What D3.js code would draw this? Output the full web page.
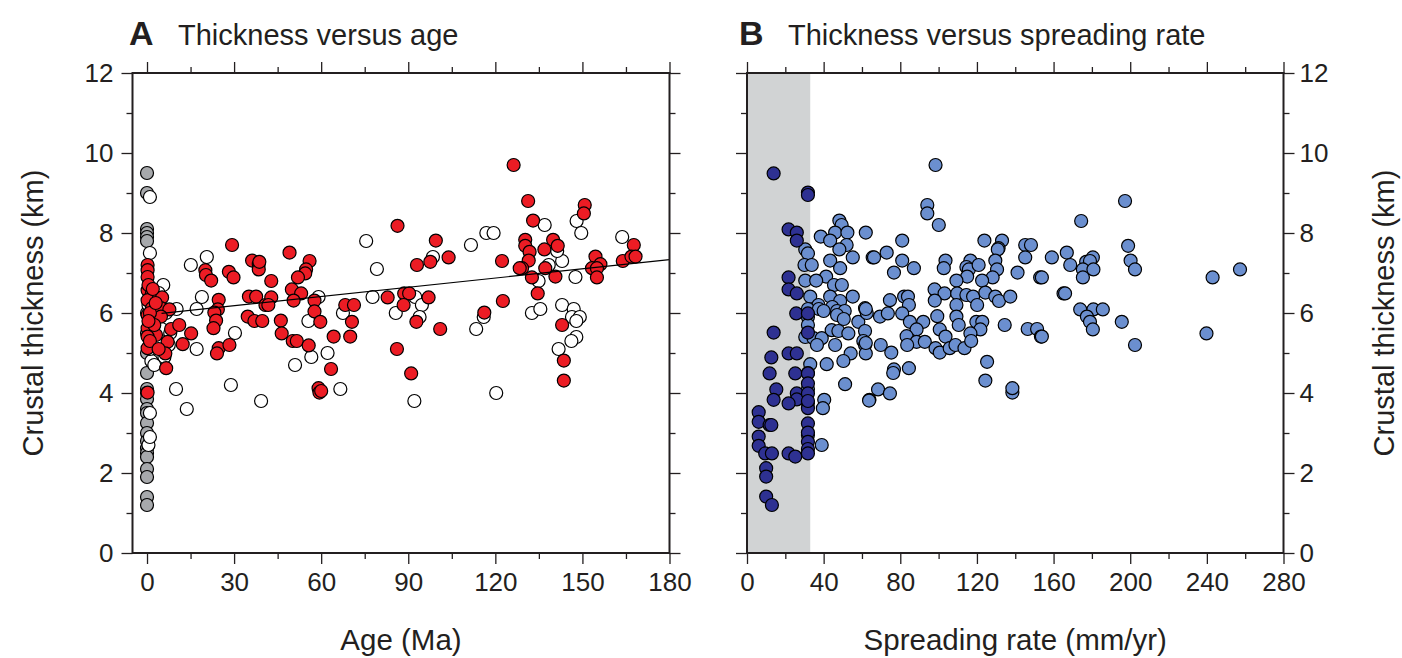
<!DOCTYPE html>
<html>
<head>
<meta charset="utf-8">
<script src="https://cdn.jsdelivr.net/npm/d3@7"></script>
<style>
body{margin:0;background:#fff}
text{font-family:"Liberation Sans",Arial,Helvetica,sans-serif;fill:#231f20}
</style>
</head>
<body>
<svg id="fig" width="1402" height="658"></svg>
<script>
// ---- data: [age (Ma), thickness (km)] ----
const ageGray = [[0,9.5],[0,9.0],[0,8.1],[0,8.0],[0,7.9],[0,7.8],[0,6.0],[0,5.5],[0,5.0],[0,4.5],[0,4.1],[0,4.0],[0,3.85],[0,3.6],[0,3.5],[0,3.25],[0,3.0],[0,2.8],[0,2.62],[0,2.5],[0,2.4],[0,2.1],[0,1.9],[0,1.4],[0,1.2]];

const ageWhite = [[1.0,8.9],[1.0,7.5],[20.6,7.4],[15.1,7.2],[5.6,6.7],[18.9,6.4],[17.1,6.1],[10.2,6.1],[30.3,5.5],[17.1,5.1],[10,4.1],[13.7,3.6],[28.9,4.2],[39.3,3.8],[51,4.7],[56.6,4.9],[62.2,5.0],[66.6,4.1],[59.1,6.4],[55.6,5.8],[67.5,6.0],[1.0,3.5],[0.5,2.7],[1.0,2.9],
  [2,5.5],[3,5.3],[4.5,5.0],[1.5,4.8],[6,4.9],[7.5,5.2],[3.5,5.7],[5,5.6],[1,5.1],[8,5.5],[2.5,4.7],[0.5,6.2],[6.5,6.0],[4,6.5],
  [75.5,7.8],[79.2,7.1],[98.5,7.4],[111.6,7.7],[77.7,6.4],[92.4,6.4],[94.7,6.2],[85.7,6.0],[93.9,5.9],[92.1,3.8],[113.4,5.6],
  [116.9,8.0],[119.4,8.0],[137,8.2],[148,8.3],[149.6,8.0],[163.7,7.9],[138.4,7.2],[143,7.3],[141.3,7.55],[147.6,6.9],[134.9,6.8],[132.6,6.0],[135.5,6.1],[143,6.2],[147,6.1],[146.4,5.9],[149.1,5.9],[147.9,5.8],[147.9,5.4],[146.2,5.3],[141.8,5.1],[116,5.9],[120.3,4.0]];

const ageRed = [[0.2,7.2],[0.2,7.07],[0.2,6.9],[0.2,6.57],[1.7,6.49],[5.2,6.39],[0.2,6.32],[1.7,6.12],[4.8,6.12],[7.7,6.09],[0.2,5.95],[2,5.9],[4.8,5.91],[0.2,5.62],[3.1,5.45],[8.3,5.6],[11.1,5.7],[0.2,5.41],[7.1,5.28],[12.3,5.22],[15.2,5.49],[0.2,5.12],[6.3,4.99],[6.6,4.62],[0.2,4.01],[0.5,6.7],[1,6.0],[2.5,5.7],[0.5,5.8],[3,6.25],[1,5.3],[4,5.1],[2,6.6],
  [29.3,7.7],[20.1,7.07],[20.3,6.95],[22.1,6.81],[28.2,7.03],[29.8,6.89],[24.7,6.33],[24.4,6.09],[23.2,6.01],[23.8,5.81],[22.9,5.62],[24.7,5.12],[24.1,4.99],[28.4,5.2],[36.2,7.31],[38.5,7.22],[38.5,7.09],[35.1,6.41],[37.6,6.41],[40.8,6.2],[34.7,5.91],[37.0,5.8],[39.7,5.8],
  [38.7,7.28],[49.1,7.51],[56,7.3],[54.8,7.09],[54.5,6.99],[52,6.89],[42.8,6.8],[49.9,6.59],[53.1,6.49],[50.5,6.31],[42.8,6.39],[41.8,6.2],[57.7,6.31],[57.7,6.04],[59.7,5.78],[46.1,5.81],[46.4,5.49],[50.2,5.3],[51.6,5.3],[55.7,5.19],[64.3,5.41],[70,5.41],[68.3,6.2],[71.3,6.2],[70.6,5.78],[63.4,4.6],[59.1,4.12],[59.4,4.01],[60,4.05],
  [86.3,8.18],[99.5,7.81],[103.9,7.39],[97.6,7.28],[93,7.2],[82.9,6.39],[88.6,6.49],[90.3,6.49],[88.4,6.2],[97,6.39],[92.8,5.78],[101,5.6],[86.1,5.1],[91,4.49],
  [126.3,9.7],[131.3,8.8],[133,8.31],[150.8,8.7],[150.5,8.49],[130.3,7.83],[130.3,7.68],[131.8,7.53],[131.5,7.31],[136.9,7.59],[139.9,7.83],[141.5,7.68],[122.3,7.3],[129.2,7.12],[128.4,7.12],[132.6,6.89],[137.2,7.12],[140.7,6.91],[134.6,6.49],[122.6,6.3],[116.2,6.01],[154.5,7.41],[156.2,7.22],[153.3,7.12],[155,7.12],[155,6.89],[163.9,7.3],[167.7,7.7],[166.9,7.41],[168.3,7.41],[143,5.7],[143.6,4.81],[143.6,4.31]];

// linear fit of thickness on age
const fitIntercept = 5.95, fitSlope = 0.0077, fitRange = [5, 180];

// ---- data: [spreading rate (mm/yr), thickness (km)] ----
const rateSlow = [[13.9,9.49],[31.8,9.01],[31.8,8.95],[21.7,8.09],[26,8.01],[26,7.81],[21.7,6.89],[21.7,6.59],[26,6.49],[25.7,5.99],[31.8,5.99],[13.9,5.51],[31.8,5.51],[21.7,4.99],[26,4.99],[12.7,4.89],[11.8,4.49],[25.2,4.49],[31.8,4.49],[15.3,4.09],[26,3.99],[26,3.84],[13.9,3.83],[31.8,4.24],[31.8,3.99],[21.7,3.74],[31.8,3.62],[31.8,3.24],[6.1,3.52],[6.1,3.28],[11.8,3.2],[12.7,3.2],[6.1,2.91],[6.1,2.68],[9.5,2.49],[13,2.49],[21.7,2.49],[25.2,2.41],[31.8,3.01],[31.8,2.78],[31.8,2.6],[31.8,2.49],[10,2.12],[10,1.91],[10,1.41],[13,1.2],[31.8,3.8]];

const rateFast = [[48.2,8.31],[49.4,8.2],[46,8.01],[52.4,8.01],[38.5,7.91],[43.4,7.81],[52,7.7],[48.2,7.59],[62,8.01],[30.4,7.59],[31.8,7.49],[55.2,7.39],[65.6,7.39],[43.4,7.31],[30,7.2],[33.8,7.2],[48.6,7.12],[41.3,6.91],[30.4,6.81],[36.1,6.81],[45.4,6.7],[49.5,6.7],[33,6.41],[43.4,6.41],[48.6,6.3],[55.2,6.41],[37.3,6.2],[44.5,6.15],[47,6.05],[51,6.05],[47,5.95],[50.5,5.85],[31.8,6.1],[37.5,6.1],[40,6.05],[58.1,5.78],[61.6,6.12],[62.5,6.0],[44.2,5.57],[31.8,5.9],[31.8,5.7],[30.4,5.4],[34.7,5.37],[39,5.37],[47.7,5.55],[52.9,5.49],[54.1,4.99],[61.6,5.55],[60.7,5.3],[61.6,5.2],[36.5,5.2],[41.6,4.72],[46,5.2],[50.3,4.8],[33,4.72],[51.2,4.22],[40.3,3.83],[39.6,3.62],[39,2.7],[63.9,3.83],[31.8,4.5],[31.8,4.1],[31.8,3.75],[31.8,2.95],
  [98.4,9.7],[94.1,8.7],[94.1,8.49],[100.1,8.2],[81,7.81],[66.3,7.39],[72.9,7.51],[81,7.31],[76.7,7.01],[87.1,7.12],[103.6,7.31],[102.7,7.12],[123.9,7.81],[133.1,7.81],[131.3,7.62],[130.9,7.59],[129.6,7.31],[130.5,7.09],[116.6,7.31],[114.5,7.15],[115.8,7.09],[114.9,6.91],[120.9,7.2],[145.2,7.7],[148.2,7.7],[145.2,7.39],[159.1,7.39],[141.2,7.01],[153,6.89],[128.2,6.89],[122.7,6.81],[109.3,6.81],[97.9,6.59],[103.1,6.49],[109.7,6.49],[114.5,6.45],[118,6.41],[124.4,6.51],[129.6,6.41],[131.5,6.3],[137.4,6.41],[82,6.41],[84,6.41],[74.6,6.32],[98,6.31],[84.5,6.2],[109.3,6.2],[120.1,6.2],[62,6.1],[69.4,5.91],[73.5,5.99],[81,5.99],[99.3,5.92],[109.3,5.91],[85,5.78],[92,5.78],[119.7,5.78],[122.8,5.78],[110.5,5.7],[88.5,5.59],[100.6,5.59],[121.8,5.59],[134.5,5.7],[146.5,5.6],[151.4,5.6],[153.4,5.41],[83.3,5.42],[103.6,5.41],[116.6,5.49],[88.5,5.28],[92.8,5.28],[83.6,5.2],[98.4,5.12],[100.6,5.01],[105.8,5.12],[108.8,5.2],[113.5,5.12],[117,5.3],[69.8,5.2],[75.3,5.01],[62,4.99],[62,5.25],[76.7,4.59],[76.3,4.5],[84.5,4.62],[125.3,4.78],[124.4,4.31],[138.5,4.01],[138.5,4.12],[68.4,4.09],[74.6,3.99],[63.7,3.81],
  [197.3,8.8],[174.4,8.3],[198.9,7.68],[200.2,7.31],[202.5,7.09],[166.9,7.51],[180.5,7.39],[168.7,7.2],[177,7.28],[179,7.3],[175.3,7.09],[180.8,7.09],[175.3,6.89],[153.9,6.89],[257.3,7.09],[243,6.89],[165.2,6.49],[166,6.49],[173.9,6.09],[180.8,6.09],[185.7,6.09],[177.4,5.91],[179,5.78],[180.5,5.59],[195.6,5.78],[202.5,5.2],[239.8,5.49],[153.9,5.41]];

const slowBand = [0, 33];

const ageTicks = [0,30,60,90,120,150,180], ageMinor = [15,45,75,105,135,165];
const rateTicks = [0,40,80,120,160,200,240,280], rateMinor = [20,60,100,140,180,220,260];
const thickTicks = [0,2,4,6,8,10,12], thickMinor = [1,3,5,7,9,11];

const ink = "#231f20";
const svg = d3.select("#fig");

const yTop = 73, yBot = 553;
const Y = d3.scaleLinear().domain([0,12]).range([yBot, yTop]);
const XA = d3.scaleLinear().domain([-5,180]).range([132.5, 669.5]);
const XB = d3.scaleLinear().domain([0,280]).range([747, 1283.5]);

function axes(X, ticks, minor, ySide){
	const g = svg.append("g");
	const x0 = X.range()[0], x1 = X.range()[1];
	const sides = [
		["bottom", yBot, true, ticks, minor],
		["top", yTop, false, ticks, minor],
		["left", x0, ySide=="left", thickTicks, thickMinor],
		["right", x1, ySide=="right", thickTicks, thickMinor]
	];
	const make = {bottom:()=>d3.axisBottom(X), top:()=>d3.axisTop(X), left:()=>d3.axisLeft(Y), right:()=>d3.axisRight(Y)};
	sides.forEach(([side, pos, lab, maj, mn])=>{
		const horiz = side=="bottom" || side=="top";
		const tr = horiz ? "translate(0,"+pos+")" : "translate("+pos+",0)";
		const pad = horiz ? 9 : (side=="left" ? 8 : 5);
		g.append("g").attr("transform",tr)
			.call(make[side]().tickValues(maj).tickSize(11).tickSizeOuter(0).tickPadding(pad)
				.tickFormat(lab ? d3.format("d") : ""))
			.call(s=>s.select(".domain").remove())
			.call(s=>s.selectAll("line").attr("stroke",ink).attr("stroke-width",1.3))
			.call(s=>s.selectAll("text").attr("fill",ink).style("font-size","26px").attr("font-family",null));
		g.append("g").attr("transform",tr)
			.call(make[side]().tickValues(mn).tickSize(6).tickSizeOuter(0).tickFormat(""))
			.call(s=>s.select(".domain").remove())
			.call(s=>s.selectAll("line").attr("stroke",ink).attr("stroke-width",1.3));
	});
	g.append("rect").attr("x",x0).attr("y",yTop).attr("width",x1-x0).attr("height",yBot-yTop)
		.attr("fill","none").attr("stroke",ink).attr("stroke-width",2);
}

function dots(X, data, fill){
	svg.append("g").selectAll("circle").data(data).enter().append("circle")
		.attr("cx",d=>X(d[0])).attr("cy",d=>Y(d[1])).attr("r",6.5)
		.attr("fill",fill).attr("stroke","#000").attr("stroke-width",1.2);
}

// panel A
dots(XA, ageGray, "#a7a9ac");
dots(XA, ageWhite, "#ffffff");
dots(XA, ageRed, "#ec1c24");
svg.append("line")
	.attr("x1",XA(fitRange[0])).attr("y1",Y(fitIntercept+fitSlope*fitRange[0]))
	.attr("x2",XA(fitRange[1])).attr("y2",Y(fitIntercept+fitSlope*fitRange[1]))
	.attr("stroke","#000").attr("stroke-width",1.2);
axes(XA, ageTicks, ageMinor, "left");

// panel B
svg.append("rect").attr("x",XB(slowBand[0])).attr("y",yTop)
	.attr("width",XB(slowBand[1])-XB(slowBand[0])).attr("height",yBot-yTop)
	.attr("fill","#d1d3d4");
dots(XB, rateFast, "#6b8fcf");
dots(XB, rateSlow, "#2e3192");
axes(XB, rateTicks, rateMinor, "right");

// titles
svg.append("text").attr("x",129).attr("y",45).text("A").style("font-size","34px").style("font-weight","bold");
svg.append("text").attr("x",178).attr("y",45).text("Thickness versus age").style("font-size","29px");
svg.append("text").attr("x",739).attr("y",45).text("B").style("font-size","34px").style("font-weight","bold");
svg.append("text").attr("x",788).attr("y",45).text("Thickness versus spreading rate").style("font-size","29px");

svg.append("text").attr("x",(XA.range()[0]+XA.range()[1])/2).attr("y",650)
	.attr("text-anchor","middle").style("font-size","29.5px").text("Age (Ma)");
svg.append("text").attr("x",(XB.range()[0]+XB.range()[1])/2).attr("y",650)
	.attr("text-anchor","middle").style("font-size","29.5px").text("Spreading rate (mm/yr)");

svg.append("text").attr("transform","translate(43,"+(yTop+yBot)/2+") rotate(-90)")
	.attr("text-anchor","middle").style("font-size","29px").text("Crustal thickness (km)");
svg.append("text").attr("transform","translate(1394,"+(yTop+yBot)/2+") rotate(-90)")
	.attr("text-anchor","middle").style("font-size","29px").text("Crustal thickness (km)");
</script>
</body>
</html>
